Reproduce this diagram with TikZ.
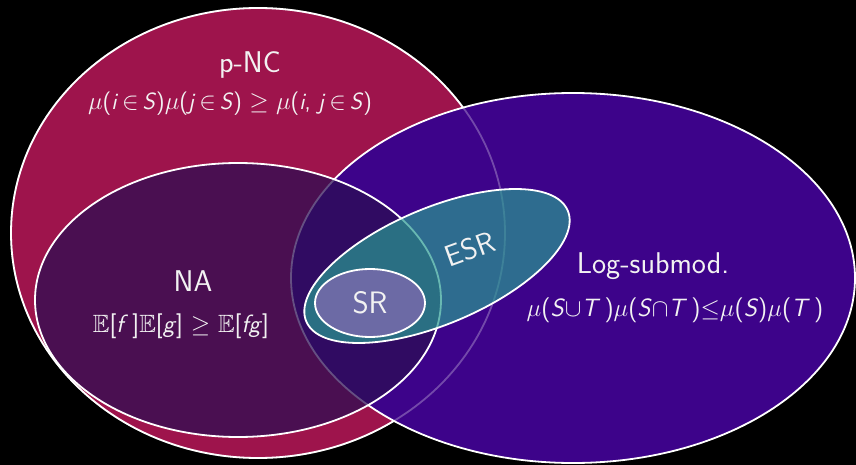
\documentclass[tikz,border=0pt]{standalone}
\usepackage{amsmath,amssymb}
\usepackage{fontspec}
\definecolor{crimson}{HTML}{9E144C}
\definecolor{violetbig}{HTML}{3D038A}
\definecolor{nafill}{HTML}{2C0E54}
\definecolor{esrfill}{HTML}{289A92}
\definecolor{srfill}{HTML}{6C6AA5}
\definecolor{txt}{HTML}{F2F2F2}
\newcommand{\vi}[1]{\textit{#1}}
\begin{document}
\begin{tikzpicture}[x=1pt,y=-1pt,
  setline/.style={draw=white,line width=1.8pt},
  faintline/.style={draw=white,draw opacity=0.28,line width=1.8pt},
  title/.style={text=txt,font=\sffamily\fontsize{30}{34}\selectfont,inner sep=0pt},
  formula/.style={text=txt,font=\sffamily\fontsize{25}{28}\selectfont,inner sep=0pt}]
\fill[black] (0,0) rectangle (856,465);
\useasboundingbox (0,0) rectangle (856,465);
% p-NC
\path[fill=crimson,setline] (258,233) ellipse [x radius=247pt,y radius=225pt];
% Log-submod
\path[fill=violetbig,setline] (573,278) ellipse [x radius=282pt,y radius=185pt];
\path[faintline] (258,233) ellipse [x radius=247pt,y radius=225pt];
% NA
\path[fill=nafill,fill opacity=0.73,setline] (238,300) ellipse [x radius=203pt,y radius=137pt];
% ESR
\path[fill=esrfill,fill opacity=0.7,setline,rotate around={23:(437,266)}] (437,266) ellipse [x radius=142pt,y radius=58pt];
% SR
\path[fill=srfill,setline] (370,303) ellipse [x radius=55pt,y radius=34pt];
% labels
\node[title] (pnc) at (250,65) {p-NC};
\node[formula,font=\sffamily\fontsize{23.5}{27}\selectfont] (pncf) at (230,104) {$\mu$(\vi{i}\,$\in$\,\vi{S})$\mu$(\vi{j}\,$\in$\,\vi{S}) $\geq$ $\mu$(\vi{i}, \vi{j}\,$\in$\,\vi{S})};
\node[title] (na) at (193,281) {NA};
\node[formula] (naf) at (181,326) {$\mathbb{E}$[\vi{f}\,]$\mathbb{E}$[\vi{g}] $\geq$ $\mathbb{E}$[\vi{fg}]};
\node[title] (ls) at (653,266) {Log-submod.};
\node[formula] (lsf) at (675,310) {$\mu$(\vi{S}$\cup$\vi{T}\,)$\mu$(\vi{S}$\cap$\vi{T}\,)$\leq$$\mu$(\vi{S})$\mu$(\vi{T}\,)};
\node[title] (esr) at (470,249) [rotate=20] {ESR};
\node[title,font=\sffamily\fontsize{31}{34}\selectfont] (sr) at (370,303) {SR};
\end{tikzpicture}
\end{document}
